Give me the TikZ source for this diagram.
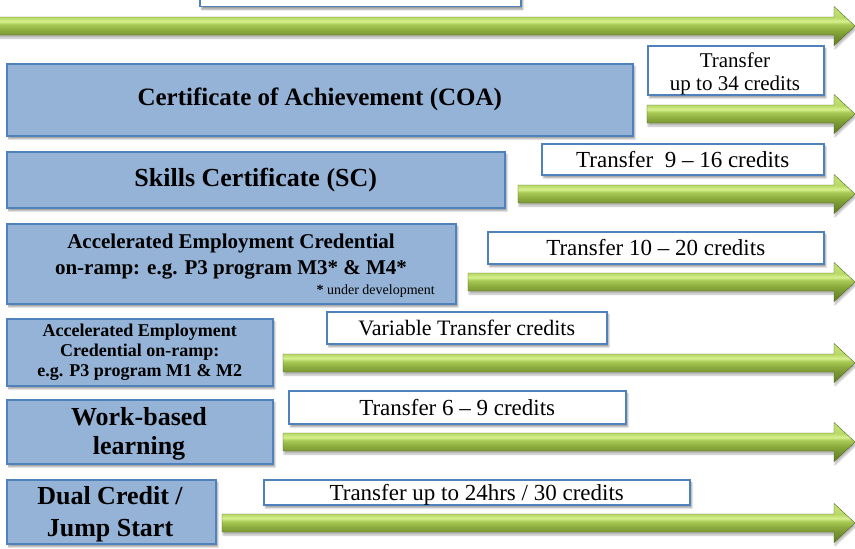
\documentclass[tikz,border=0pt]{standalone}
\usepackage{fontspec}
\setmainfont{Liberation Serif}
\usetikzlibrary{shadows,shadows.blur}
\definecolor{boxfill}{RGB}{149,179,215}
\definecolor{boxline}{RGB}{79,129,189}
\definecolor{gA}{RGB}{96,124,36}
\definecolor{gB}{RGB}{118,148,48}
\definecolor{gC}{RGB}{140,172,62}
\definecolor{gD}{RGB}{168,202,84}
\definecolor{gE}{RGB}{214,240,140}
\definecolor{gF}{RGB}{184,216,104}
\definecolor{gG}{RGB}{200,228,120}
\pgfdeclareverticalshading{greenarrow}{100bp}{color(0bp)=(gA); color(25bp)=(gA); color(37bp)=(gB); color(45bp)=(gC); color(52bp)=(gD); color(56bp)=(gE); color(61bp)=(gF); color(75bp)=(gG); color(100bp)=(gG)}
\tikzset{
  garrow/.style={shading=greenarrow, draw=gA!85!black, line width=0.4pt,
    blur shadow={shadow xshift=1pt, shadow yshift=-3pt, shadow opacity=30, shadow blur steps=5}},
  bluebox/.style={rectangle, draw=boxline, line width=1.5pt, fill=boxfill, inner sep=0pt,
    align=center, anchor=north west, font=\bfseries,
    blur shadow={shadow xshift=2pt, shadow yshift=-3pt, shadow opacity=40, shadow blur steps=5}},
  wbox/.style={rectangle, draw=boxline, line width=1.5pt, fill=white, inner sep=0pt,
    align=center, anchor=north west, text depth=0pt,
    blur shadow={shadow xshift=2pt, shadow yshift=-3pt, shadow opacity=40, shadow blur steps=5}},
  tfont/.style={font=\fontsize{23}{27}\selectfont},
}
\newcommand\greenarrow[3]{%
  \path[garrow] (#1,#3-9) -- (#2-21,#3-9) -- (#2-21,#3-19.5) -- (#2,#3)
    -- (#2-21,#3+19.5) -- (#2-21,#3+9) -- (#1,#3+9) -- cycle;}
\begin{document}
\begin{tikzpicture}[x=1pt,y=-1pt]
\useasboundingbox (0,0) rectangle (855,549);
% arrows
\greenarrow{-5}{855}{26}
\greenarrow{647}{855}{114}
\greenarrow{518}{855}{194}
\greenarrow{468}{855}{282}
\greenarrow{283}{855}{363}
\greenarrow{283}{855}{442}
\greenarrow{222}{855}{523}
% top partial box
\node[wbox, anchor=south west, minimum width=321pt, minimum height=30pt] (topbox) at (199,7) {};
% program boxes
\node[bluebox, minimum width=626pt, minimum height=72pt, font=\bfseries\fontsize{25}{29}\selectfont] (coa) at (6,63) {Certificate of Achievement (COA)};
\node[bluebox, minimum width=498pt, minimum height=56pt, font=\bfseries\fontsize{26}{30}\selectfont] (sc) at (6,151) {Skills Certificate (SC)};
\node[bluebox, minimum width=449pt, minimum height=80pt] (aecA) at (6,223) {};
\node[font=\bfseries\fontsize{21}{26}\selectfont, align=center] (aecAt) at (231,257) {Accelerated Employment Credential\\on-ramp: e.g. P3 program M3* \& M4*};
\node[font=\fontsize{14}{16}\selectfont, anchor=base east, inner sep=0pt] (aecAn) at (435,294) {\textbf{*} under development};
\node[bluebox, minimum width=266pt, minimum height=67pt, font=\bfseries\fontsize{18}{20}\selectfont] (aecB) at (6,318) {Accelerated Employment\\Credential on-ramp:\\e.g. P3 program M1 \& M2};
\node[bluebox, minimum width=266pt, minimum height=64pt] (wbl) at (6,399) {};
\node[font=\bfseries\fontsize{26}{29}\selectfont, align=center] (wblt) at (139,433.5) {Work-based\\learning};
\node[bluebox, minimum width=209pt, minimum height=64pt] (dual) at (6,479) {};
\node[font=\bfseries\fontsize{26}{32}\selectfont, align=center] (dualt) at (110,514) {Dual Credit /\\Jump Start};
% transfer boxes
\node[wbox, minimum width=176pt, minimum height=49pt] (t34) at (647,45) {};
\node[font=\fontsize{21}{23}\selectfont, align=center] (t34t) at (735,74) {Transfer\\up to 34 credits};
\node[wbox, tfont, minimum width=282pt, minimum height=31pt] (t916) at (541,143) {Transfer\ \ 9 -- 16 credits};
\node[wbox, tfont, minimum width=336pt, minimum height=32pt] (t1020) at (487,231) {Transfer 10 -- 20 credits};
\node[wbox, font=\fontsize{22}{26}\selectfont, minimum width=280pt, minimum height=32pt] (tvar) at (326,311) {Variable Transfer credits};
\node[wbox, tfont, minimum width=337pt, minimum height=33pt] (t69) at (288,390) {Transfer 6 -- 9 credits};
\node[wbox, tfont, minimum width=426pt, minimum height=25pt] (t24) at (263,479) {Transfer up to 24hrs / 30 credits};
\end{tikzpicture}
\end{document}
